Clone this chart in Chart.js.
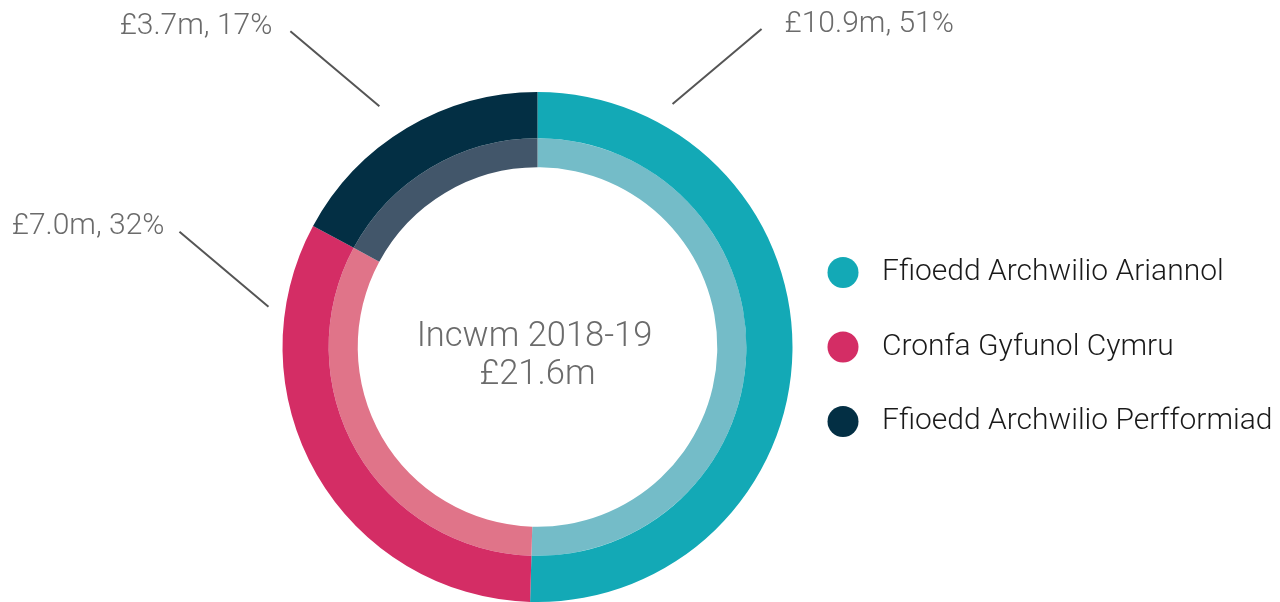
<!DOCTYPE html>
<html><head><meta charset="utf-8">
<script src="https://cdn.jsdelivr.net/npm/chart.js@4/dist/chart.umd.min.js"></script>
<style>html,body{margin:0;padding:0;background:#fff;}#wrap{width:1280px;height:602px;position:relative;}</style>
</head><body><div id="wrap"><canvas id="c"></canvas></div>
<script>
const categories = ['Ffioedd Archwilio Ariannol', 'Cronfa Gyfunol Cymru', 'Ffioedd Archwilio Perfformiad'];
const values = [10.9, 7.0, 3.7];
const percentLabels = ['51%', '32%', '17%'];
const valueLabels = ['£10.9m', '£7.0m', '£3.7m'];
const centerLines = ['Incwm 2018-19', '£21.6m'];
const outerColors = ['#13a9b6', '#d42d65', '#032f44'];
const innerColors = ['#74bcc8', '#e07489', '#42566a'];
// leader anchors: fraction along slice, radial gap, side
const anchorFrac = [0.16, 0.83, 0.46];
const anchorGap = [23, 17, 33];
const anchorSide = [1, -1, -1];
const labelGap = [23, 15, 18];

const FONT = 'Roboto, "Liberation Sans", sans-serif';

const labelsPlugin = {
  id: 'labelsPlugin',
  afterDraw(chart) {
    const ctx = chart.ctx;
    const meta = chart.getDatasetMeta(0);
    ctx.save();
    const cx = meta.data[0].x, cy = meta.data[0].y;
    ctx.fillStyle = '#6b6b6b';
    ctx.font = '300 34.5px ' + FONT;
    ctx.textAlign = 'center';
    ctx.textBaseline = 'middle';
    ctx.fillText(centerLines[0], cx - 3, cy - 10);
    ctx.fillText(centerLines[1], cx, cy + 28);
    meta.data.forEach((arc, i) => {
      const a = arc.startAngle + anchorFrac[i] * (arc.endAngle - arc.startAngle);
      const r = arc.outerRadius + anchorGap[i];
      const x0 = arc.x + r * Math.cos(a), y0 = arc.y + r * Math.sin(a);
      const s = anchorSide[i];
      const x1 = x0 + s * 89, y1 = y0 - 75;
      ctx.strokeStyle = '#555';
      ctx.lineWidth = 2;
      ctx.beginPath(); ctx.moveTo(x0, y0); ctx.lineTo(x1, y1); ctx.stroke();
      ctx.font = '300 30px ' + FONT;
      ctx.fillStyle = '#6b6b6b';
      ctx.textAlign = s > 0 ? 'left' : 'right';
      ctx.textBaseline = 'middle';
      ctx.fillText(valueLabels[i] + ', ' + percentLabels[i], x1 + s * labelGap[i], y1 - 5);
    });
    const lx = 843, step = 74.5;
    categories.forEach((c, i) => {
      const ly = cy + (i - 1) * step;
      ctx.fillStyle = outerColors[i];
      ctx.beginPath(); ctx.arc(lx, ly, 15.5, 0, Math.PI * 2); ctx.fill();
      ctx.fillStyle = '#1a1a1a';
      ctx.font = '300 30px ' + FONT;
      ctx.textAlign = 'left';
      ctx.textBaseline = 'middle';
      ctx.fillText(c, 882, ly);
    });
    ctx.restore();
  }
};

new Chart(document.getElementById('c'), {
  type: 'doughnut',
  data: {
    labels: categories,
    datasets: [
      { data: values, backgroundColor: outerColors, borderWidth: 0, weight: 46 },
      { data: values, backgroundColor: innerColors, borderWidth: 0, weight: 29 }
    ]
  },
  options: {
    responsive: true,
    maintainAspectRatio: false,
    animation: false,
    cutout: '70.5%',
    layout: { padding: { left: 282, right: 487, top: 92, bottom: 0 } },
    plugins: { legend: { display: false }, tooltip: { enabled: false } }
  },
  plugins: [labelsPlugin]
});
</script></body></html>
